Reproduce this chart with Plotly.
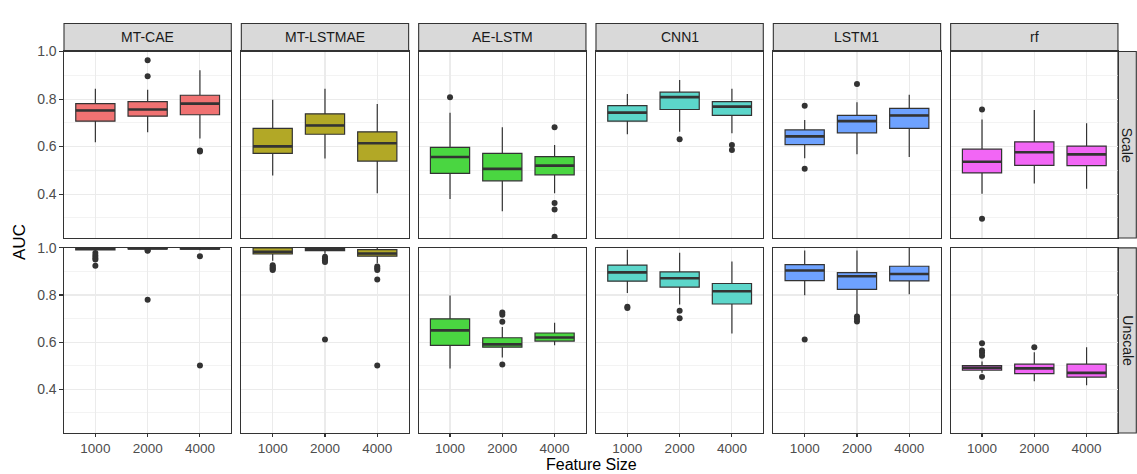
import plotly.graph_objects as go

METHODS = ["MT-CAE", "MT-LSTMAE", "AE-LSTM", "CNN1", "LSTM1", "rf"]
FEATURES = ["1000", "2000", "4000"]
ROWS = ["Scale", "Unscale"]
COLORS = ["#F07272", "#B2A826", "#4AD641", "#5CD6CA", "#6EA2FF", "#F266F5"]

# ---- Scale row: per method, per feature size ----
SCALE_LOW = [[0.618, 0.660, 0.634], [0.478, 0.550, 0.404], [0.379, 0.328, 0.404],
             [0.652, 0.662, 0.656], [0.551, 0.568, 0.556], [0.401, 0.445, 0.423]]
SCALE_Q1 = [[0.707, 0.728, 0.734], [0.571, 0.652, 0.539], [0.487, 0.456, 0.481],
            [0.707, 0.756, 0.731], [0.608, 0.658, 0.677], [0.489, 0.521, 0.520]]
SCALE_MED = [[0.752, 0.756, 0.781], [0.601, 0.689, 0.614], [0.556, 0.506, 0.520],
             [0.743, 0.808, 0.768], [0.643, 0.707, 0.731], [0.536, 0.576, 0.567]]
SCALE_Q3 = [[0.781, 0.789, 0.816], [0.677, 0.738, 0.662], [0.597, 0.571, 0.558],
            [0.772, 0.829, 0.789], [0.670, 0.731, 0.761], [0.589, 0.620, 0.602]]
SCALE_HIGH = [[0.843, 0.839, 0.921], [0.797, 0.843, 0.779], [0.742, 0.681, 0.607],
              [0.821, 0.880, 0.843], [0.712, 0.787, 0.818], [0.714, 0.754, 0.698]]
SCALE_OUT = [[[], [0.963, 0.896], [0.583, 0.579]],
             [[], [], []],
             [[0.808], [], [0.681, 0.362, 0.335, 0.220]],
             [[], [0.631], [0.607, 0.586]],
             [[0.772, 0.507], [0.863], []],
             [[0.756, 0.296], [], []]]

# ---- Unscale row ----
UNSCALE_LOW = [[0.985, 0.993, 0.990], [0.945, 0.975, 0.935], [0.488, 0.535, 0.587],
               [0.809, 0.760, 0.637], [0.799, 0.715, 0.803], [0.470, 0.434, 0.418]]
UNSCALE_Q1 = [[0.991, 0.996, 0.995], [0.974, 0.988, 0.965], [0.587, 0.579, 0.605],
              [0.859, 0.834, 0.762], [0.861, 0.824, 0.860], [0.482, 0.467, 0.452]]
UNSCALE_MED = [[0.996, 0.998, 0.998], [0.983, 0.995, 0.976], [0.650, 0.591, 0.620],
               [0.896, 0.871, 0.816], [0.904, 0.880, 0.889], [0.492, 0.489, 0.470]]
UNSCALE_Q3 = [[0.999, 1.000, 1.000], [1.000, 1.000, 0.993], [0.699, 0.619, 0.639],
              [0.927, 0.898, 0.849], [0.929, 0.895, 0.922], [0.501, 0.507, 0.507]]
UNSCALE_HIGH = [[1.000, 1.000, 1.000], [1.000, 1.000, 1.000], [0.798, 0.665, 0.683],
                [0.992, 0.979, 0.942], [0.989, 0.989, 1.000], [0.518, 0.557, 0.579]]
UNSCALE_OUT = [[[0.978, 0.968, 0.958, 0.951, 0.924], [0.990, 0.988, 0.780], [0.965, 0.501]],
               [[0.926, 0.920, 0.915, 0.910, 0.906], [0.962, 0.955, 0.948, 0.940, 0.612],
                [0.921, 0.914, 0.906, 0.866, 0.501]],
               [[], [0.726, 0.716, 0.687, 0.506], []],
               [[0.750, 0.745], [0.733, 0.702], []],
               [[0.612], [0.709, 0.698, 0.688], []],
               [[0.596, 0.565, 0.555, 0.543, 0.452], [0.579], []]]

Y_RANGE = [0.215, 1.0]
Y_TICKS = [0.4, 0.6, 0.8, 1.0]
Y_TICKTEXT = ["0.4", "0.6", "0.8", "1.0"]

W, H = 1137, 474
FONT = "Liberation Sans, Arial, sans-serif"
DARK = "#333333"
GRID = "#EBEBEB"
TICK_SIZE = 13.5
STRIP_SIZE = 14
TITLE_SIZE = 16


def px(x):
    return x / W


def py(y):
    return 1 - y / H


PANEL_LEFT0 = 64.0
PANEL_STEP = 177.33
PANEL_W = 167.3
ROW_TOP = [44.3, 244.0]
ROW_BOT = [234.0, 432.3]
STRIP_TOP = 15.7
RSTRIP_X1 = 1136.3

fig = go.Figure()
layout = dict(
    width=W, height=H, autosize=False,
    margin=dict(l=0, r=0, t=0, b=0),
    paper_bgcolor="white", plot_bgcolor="white",
    showlegend=False, boxmode="overlay",
    font=dict(family=FONT, color="#4D4D4D", size=TICK_SIZE),
)
shapes = []
annotations = []

stats = [
    (SCALE_LOW, SCALE_Q1, SCALE_MED, SCALE_Q3, SCALE_HIGH, SCALE_OUT),
    (UNSCALE_LOW, UNSCALE_Q1, UNSCALE_MED, UNSCALE_Q3, UNSCALE_HIGH, UNSCALE_OUT),
]

for r in range(2):
    low, q1, med, q3, high, out = stats[r]
    for c, m in enumerate(METHODS):
        n = r * 6 + c + 1
        xa = "x" if n == 1 else f"x{n}"
        ya = "y" if n == 1 else f"y{n}"
        x0 = PANEL_LEFT0 + c * PANEL_STEP
        x1 = x0 + PANEL_W
        layout["xaxis" if n == 1 else f"xaxis{n}"] = dict(
            domain=[px(x0), px(x1)], anchor=ya, type="category",
            categoryorder="array", categoryarray=FEATURES,
            range=[-0.6, 2.6], showgrid=True, gridcolor=GRID, gridwidth=1.1,
            showline=True, linecolor=DARK, linewidth=1.1, mirror=True,
            zeroline=False, fixedrange=True,
            ticks="outside" if r == 1 else "", ticklen=3, tickcolor=DARK, tickwidth=1.1,
            showticklabels=(r == 1),
            tickfont=dict(family=FONT, size=TICK_SIZE, color="#4D4D4D"),
        )
        layout["yaxis" if n == 1 else f"yaxis{n}"] = dict(
            domain=[py(ROW_BOT[r]), py(ROW_TOP[r])], anchor=xa,
            range=Y_RANGE, tickvals=Y_TICKS, ticktext=Y_TICKTEXT,
            showgrid=True, gridcolor=GRID, gridwidth=1.1,
            minor=dict(tickvals=[0.3, 0.5, 0.7, 0.9], showgrid=True,
                       gridcolor=GRID, gridwidth=0.6, ticks=""),
            showline=True, linecolor=DARK, linewidth=1.1, mirror=True,
            zeroline=False, fixedrange=True,
            ticks="outside" if c == 0 else "", ticklen=3.5, tickcolor=DARK, tickwidth=1.1,
            showticklabels=(c == 0),
            tickfont=dict(family=FONT, size=STRIP_SIZE, color="#4D4D4D"),
        )
        # box
        fig.add_trace(go.Box(
            x=FEATURES, q1=q1[c], median=med[c], q3=q3[c],
            lowerfence=low[c], upperfence=high[c],
            boxpoints=False, width=0.75, whiskerwidth=0,
            fillcolor=COLORS[c], line=dict(color=DARK, width=1.2),
            xaxis=xa, yaxis=ya, hoverinfo="skip",
        ))
        # thick median line
        fig.add_trace(go.Box(
            x=FEATURES, q1=med[c], median=med[c], q3=med[c],
            lowerfence=med[c], upperfence=med[c],
            boxpoints=False, width=0.75, whiskerwidth=0,
            fillcolor="rgba(0,0,0,0)", line=dict(color=DARK, width=2.6),
            xaxis=xa, yaxis=ya, hoverinfo="skip",
        ))
        # outliers
        ox, oy = [], []
        for k, f in enumerate(FEATURES):
            for v in out[c][k]:
                ox.append(f)
                oy.append(v)
        if ox:
            fig.add_trace(go.Scatter(
                x=ox, y=oy, mode="markers",
                marker=dict(color=DARK, size=6, line=dict(width=0)),
                xaxis=xa, yaxis=ya, hoverinfo="skip",
            ))
        # top strips
        if r == 0:
            shapes.append(dict(type="rect", xref="paper", yref="paper",
                               x0=px(x0), x1=px(x1), y0=py(ROW_TOP[0]), y1=py(STRIP_TOP),
                               fillcolor="#D9D9D9", line=dict(color=DARK, width=1.1),
                               layer="below"))
            annotations.append(dict(text=m, xref="paper", yref="paper",
                                    x=px((x0 + x1) / 2), y=py((STRIP_TOP + ROW_TOP[0]) / 2),
                                    showarrow=False, xanchor="center", yanchor="middle",
                                    font=dict(family=FONT, size=STRIP_SIZE, color="#1A1A1A")))
    # right strip
    sx0 = PANEL_LEFT0 + 5 * PANEL_STEP + PANEL_W
    shapes.append(dict(type="rect", xref="paper", yref="paper",
                       x0=px(sx0), x1=px(RSTRIP_X1), y0=py(ROW_BOT[r]), y1=py(ROW_TOP[r]),
                       fillcolor="#D9D9D9", line=dict(color=DARK, width=1.1),
                       layer="below"))
    annotations.append(dict(text=ROWS[r], xref="paper", yref="paper",
                            x=px((sx0 + RSTRIP_X1) / 2), y=py((ROW_TOP[r] + ROW_BOT[r]) / 2),
                            showarrow=False, textangle=90, xanchor="center", yanchor="middle",
                            font=dict(family=FONT, size=STRIP_SIZE, color="#1A1A1A")))

annotations.append(dict(text="AUC", xref="paper", yref="paper",
                        x=px(20), y=py(238), showarrow=False, textangle=-90,
                        xanchor="center", yanchor="middle",
                        font=dict(family=FONT, size=17, color="black")))
annotations.append(dict(text="Feature Size", xref="paper", yref="paper",
                        x=px(591), y=py(464.6), showarrow=False,
                        xanchor="center", yanchor="middle",
                        font=dict(family=FONT, size=TITLE_SIZE, color="black")))

layout["shapes"] = shapes
layout["annotations"] = annotations
fig.update_layout(**layout)
fig.write_html(
    "out.html",
    config={"displayModeBar": False, "staticPlot": True},
    post_script="document.body.style.margin='0';document.body.style.overflow='hidden';",
)
